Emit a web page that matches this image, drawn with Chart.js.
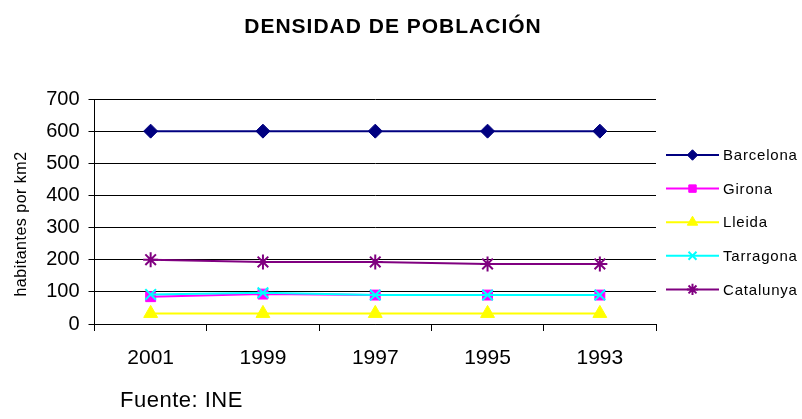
<!DOCTYPE html>
<html><head><meta charset="utf-8">
<style>html,body{margin:0;padding:0;background:#fff}#wrap{width:802px;height:419px}</style>
</head><body><div id="wrap"><canvas id="c" width="802" height="419"></canvas></div>
<script src="https://cdn.jsdelivr.net/npm/chart.js@4/dist/chart.umd.min.js"></script>
<script>
const categories = ['2001', '1999', '1997', '1995', '1993'];
const barcelona = [600, 600, 600, 600, 600];
const girona = [85, 93, 90, 90, 90];
const lleida = [33, 33, 33, 33, 33];
const tarragona = [92, 97, 90, 90, 90];
const catalunya = [200, 193, 193, 187, 187];
const seriesNames = ['Barcelona', 'Girona', 'Lleida', 'Tarragona', 'Catalunya'];
const yTicks = [0, 100, 200, 300, 400, 500, 600, 700];
const chartTitle = 'DENSIDAD DE POBLACIÓN';
const yTitle = 'habitantes por km2';
const sourceNote = 'Fuente: INE';

const FONT = '"Liberation Sans", Arial, sans-serif';
const styles = [
  {color: '#000080', pointStyle: 'rectRot', radius: 7, bw: 1},
  {color: '#FF00FF', pointStyle: 'rect', radius: 7, bw: 1},
  {color: '#FFFF00', pointStyle: 'triangle', radius: 8, bw: 1},
  {color: '#00FFFF', pointStyle: 'crossRot', radius: 7.5, bw: 2},
  {color: '#800080', pointStyle: 'star', radius: 7.5, bw: 2}
];
const seriesData = [barcelona, girona, lleida, tarragona, catalunya];

const datasets = seriesData.map((d, i) => ({
  label: seriesNames[i],
  data: d,
  borderColor: styles[i].color,
  backgroundColor: styles[i].color,
  pointBackgroundColor: styles[i].color,
  pointBorderColor: styles[i].color,
  pointStyle: styles[i].pointStyle,
  pointRadius: styles[i].radius,
  pointBorderWidth: styles[i].bw,
  borderWidth: 2,
  tension: 0,
  fill: false,
  order: seriesData.length - i
}));

const textPlugin = {
  id: 'texts',
  afterDraw(chart) {
    const ctx = chart.ctx;
    ctx.save();
    ctx.fillStyle = '#000';
    // title
    ctx.font = 'bold 21px ' + FONT;
    ctx.letterSpacing = '1px';
    ctx.textAlign = 'center';
    ctx.textBaseline = 'alphabetic';
    ctx.fillText(chartTitle, 393, 33);
    // y title
    ctx.letterSpacing = '0.5px';
    ctx.font = '16px ' + FONT;
    ctx.save();
    ctx.translate(22, 224);
    ctx.rotate(-Math.PI / 2);
    ctx.textBaseline = 'middle';
    ctx.fillText(yTitle, 0, 0);
    ctx.restore();
    // source
    ctx.letterSpacing = '0.5px';
    ctx.font = '22px ' + FONT;
    ctx.textAlign = 'left';
    ctx.textBaseline = 'middle';
    ctx.fillText(sourceNote, 120, 401);
    // legend
    ctx.font = '15px ' + FONT;
    ctx.letterSpacing = '0.8px';
    chart.data.datasets.forEach((ds, i) => {
      const y = 155 + i * 33.6;
      ctx.strokeStyle = ds.borderColor;
      ctx.lineWidth = 2;
      ctx.beginPath();
      ctx.moveTo(666, y);
      ctx.lineTo(719, y);
      ctx.stroke();
      ctx.fillStyle = ds.pointBackgroundColor;
      ctx.strokeStyle = ds.pointBorderColor;
      ctx.lineWidth = ds.pointBorderWidth;
      Chart.helpers.drawPoint(ctx, {pointStyle: ds.pointStyle, radius: ds.pointRadius * 0.75, rotation: 0, borderWidth: ds.pointBorderWidth}, 692.5, y);
      ctx.fillStyle = '#000';
      ctx.textAlign = 'left';
      ctx.textBaseline = 'middle';
      ctx.fillText(ds.label, 723, y + 1);
    });
    ctx.restore();
  }
};

new Chart(document.getElementById('c'), {
  type: 'line',
  data: {labels: categories, datasets},
  plugins: [textPlugin],
  options: {
    responsive: false,
    devicePixelRatio: 1,
    animation: false,
    layout: {padding: {left: 0, top: 99, right: 146, bottom: 0}},
    plugins: {legend: {display: false}, title: {display: false}, tooltip: {enabled: false}},
    scales: {
      x: {
        offset: true,
        grid: {offset: true, drawOnChartArea: false, drawTicks: true, tickLength: 7, color: '#000', lineWidth: 1},
        border: {display: true, color: '#000', width: 1},
        ticks: {color: '#000', font: {family: FONT, size: 21}, padding: 15, maxRotation: 0},
        afterFit(s) { s.height = 95; }
      },
      y: {
        min: 0, max: 700,
        afterBuildTicks(s) { s.ticks = yTicks.map(v => ({value: v})); },
        grid: {drawTicks: true, tickLength: 6, color: '#000', lineWidth: 1},
        border: {display: true, color: '#000', width: 1},
        ticks: {color: '#000', font: {family: FONT, size: 20}, padding: 9},
        afterFit(s) { s.width = 94.5; }
      }
    }
  }
});
</script>
</body></html>
